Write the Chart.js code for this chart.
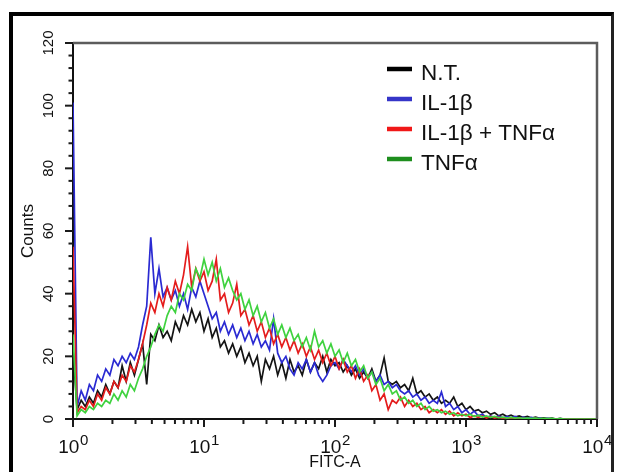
<!DOCTYPE html>
<html>
<head>
<meta charset="utf-8">
<style>
html,body{margin:0;padding:0;background:#fff;overflow:hidden;width:617px;height:472px}
#frame{position:absolute;left:9px;top:12px;width:605px;height:470px;border-left:4px solid #000;border-top:4px solid #000;border-right:3px solid #222;box-sizing:border-box}
#wrap{position:absolute;left:0;top:0;width:617px;height:472px}
</style>
<script src="https://cdn.jsdelivr.net/npm/chart.js@4/dist/chart.umd.min.js"></script>
</head>
<body>
<div id="frame"></div>
<div id="wrap"><canvas id="c" width="617" height="472"></canvas></div>
<script>
// ---- data (counts per log channel, 32 channels per decade, 10^0 .. 10^4) ----
const binsPerDecade = 32;
const seriesLabels = ['N.T.', 'IL-1\u03b2', 'IL-1\u03b2 + TNF\u03b1', 'TNF\u03b1'];

const ntCounts = [
  22, 3, 6, 4, 7, 5, 9, 7, 11, 8, 12, 10, 17, 12, 18, 14,
  19, 24, 11, 27, 25, 30, 26, 28, 25, 31, 28, 33, 30, 35, 31, 34,
  28, 32, 26, 29, 23, 25, 21, 24, 20, 23, 18, 21, 17, 20, 12, 19,
  16, 20, 14, 18, 13, 19, 15, 17, 14, 19, 15, 18, 16, 20, 15, 19,
  17, 18, 15, 17, 14, 16, 13, 15, 13, 16, 12, 14, 19.5, 12, 11, 12,
  10, 11, 9, 13, 8, 9, 7, 8, 6, 7, 5, 6, 5, 7, 4, 5,
  3, 4, 2.5, 3, 2, 2.5, 1.5, 2, 1, 1.5, 0.8, 1.2, 0.6, 1, 0.5, 0.8,
  0.3, 0.6, 0.2, 0.4, 0.1, 0.3, 0, 0.2, 0, 0, 0, 0, 0, 0, 0, 0, 0
];
const il1bCounts = [
  101, 4, 9, 6, 11, 9, 14, 12, 16, 14, 19, 17, 20, 18, 21, 19,
  23, 30, 36, 58, 40, 48, 39, 42, 38, 41, 36, 40, 35, 42, 39, 44,
  40, 36, 32, 34, 28, 31, 27, 30, 26, 29, 25, 28, 24, 27, 23, 25,
  22, 32, 21, 18, 20, 16, 14, 18, 16, 19, 15, 18, 14, 12, 14, 17,
  18, 16, 19, 17, 15, 17, 14, 16, 13, 15, 12, 14, 11, 12, 10, 11,
  9, 8, 9, 7, 8, 6, 7, 5, 6, 5, 8.6, 4, 5, 3, 4, 2,
  3, 1.5, 2.5, 1, 1.5, 0.5, 1, 0.5, 1, 0.3, 0.8, 0.3, 0.8, 0.2, 0.6, 0.2,
  0.5, 0.1, 0.3, 0, 0.2, 0, 0, 0, 0, 0, 0, 0, 0, 0, 0, 0, 0
];
const il1bTnfCounts = [
  55, 2, 4, 3, 6, 4, 8, 6, 10, 8, 12, 10, 14, 12, 17, 15,
  19, 24, 30, 37, 34, 40, 36, 42, 38, 44, 40, 46, 55, 42, 48, 44,
  47, 41, 44, 51, 38, 40, 34, 37, 43, 33, 35, 30, 33, 28, 31, 26,
  29, 24, 27, 23, 26, 22, 25, 21, 24, 20, 23, 19, 22, 18, 21, 17,
  20, 16, 19, 15, 17, 13, 16, 12, 14, 9, 11, 6, 8, 3, 6, 5,
  7, 4, 6, 4, 5, 3, 4, 2, 3, 2, 3, 1.5, 2.5, 1, 2, 1,
  1.5, 0.5, 1, 0.5, 1, 0.3, 0.8, 0.3, 0.6, 0.2, 0.4, 0, 0.3, 0, 0.2, 0,
  0, 0.2, 0, 0, 0, 0, 0, 0, 0, 0, 0, 0, 0, 0, 0, 0, 0
];
const tnfCounts = [
  27, 1, 3, 2, 4, 3, 5, 4, 6, 5, 8, 6, 9, 7, 11, 9,
  13, 16, 20, 23, 27, 30, 28, 33, 36, 34, 40, 38, 43, 41, 48, 45,
  51, 46, 50, 44, 48, 42, 45, 41, 38, 40, 35, 38, 33, 36, 31, 34,
  29, 32, 27, 30, 26, 29, 25, 27, 23, 26, 22, 28, 23, 25, 21, 24,
  20, 22, 18, 21, 17, 19, 15, 17, 13, 15, 11, 13, 9, 11, 8, 9,
  6, 7, 5, 6, 4, 5, 3, 4, 2.5, 3, 2, 2.5, 1.5, 2, 1, 1.5,
  1, 1.5, 0.8, 1.2, 0.6, 1, 0.5, 0.8, 0.4, 0.6, 0.3, 0.5, 0.3, 0.4, 0.2, 0.3,
  0.2, 0.3, 0.1, 0.2, 0.1, 0.2, 0, 0.1, 0, 0, 0, 0, 0, 0, 0, 0, 0
];

// axis ticks
const xDecades = [1, 10, 100, 1000, 10000];
const xExponents = ['0', '1', '2', '3', '4'];
const xMinorMultipliers = [2, 3, 4, 5, 6, 7, 8, 9];
const yTickLabels = [0, 20, 40, 60, 80, 100, 120];

// channel positions (log-spaced channels of the cytometer)
const channels = ntCounts.map((_, i) => Math.pow(10, i / binsPerDecade));

const lineColors = ['#141414', '#2a2ad2', '#e41c1c', '#3fd23f'];
const legendColors = ['#000000', '#3535c8', '#f01818', '#1e8e1e'];
const FONT = "'Liberation Sans', Arial, sans-serif";

const xTickValues = [];
xDecades.forEach((d, k) => {
  xTickValues.push(d);
  if (k < xDecades.length - 1) xMinorMultipliers.forEach(m => xTickValues.push(d * m));
});

const decor = {
  id: 'decor',
  afterDraw(chart) {
    const {ctx, chartArea: a, scales: {x, y}} = chart;
    ctx.save();
    // top / right frame
    ctx.strokeStyle = '#5c5c5c';
    ctx.lineWidth = 2.5;
    ctx.beginPath();
    ctx.moveTo(a.left, a.top);
    ctx.lineTo(a.right, a.top);
    ctx.lineTo(a.right, a.bottom);
    ctx.stroke();
    // tick marks
    ctx.strokeStyle = '#1a1a1a';
    ctx.lineWidth = 2;
    x.ticks.forEach(t => {
      const px = x.getPixelForValue(t.value);
      const l = Math.log10(t.value);
      const major = Math.abs(l - Math.round(l)) < 1e-9;
      ctx.beginPath();
      ctx.moveTo(px, a.bottom);
      ctx.lineTo(px, a.bottom + (major ? 8 : 5));
      ctx.stroke();
    });
    y.ticks.forEach(t => {
      const py = y.getPixelForValue(t.value);
      const major = yTickLabels.includes(t.value);
      ctx.beginPath();
      ctx.moveTo(a.left, py);
      ctx.lineTo(a.left - (major ? 8 : 4.5), py);
      ctx.stroke();
    });
    // x tick labels 10^n
    ctx.fillStyle = '#111';
    ctx.textBaseline = 'alphabetic';
    ctx.textAlign = 'left';
    xDecades.forEach((d, k) => {
      const px = x.getPixelForValue(d);
      ctx.font = '19px ' + FONT;
      const w1 = ctx.measureText('10').width;
      ctx.font = '15px ' + FONT;
      const w2 = ctx.measureText(xExponents[k]).width;
      const start = px - (w1 + w2) / 2;
      ctx.font = '19px ' + FONT;
      ctx.fillText('10', start, 453);
      ctx.font = '15px ' + FONT;
      ctx.fillText(xExponents[k], start + w1 + 0.5, 445);
    });
    // legend
    ctx.font = '22.5px ' + FONT;
    chart.data.datasets.forEach((ds, i) => {
      const ly = 69 + i * 30;
      ctx.strokeStyle = legendColors[i];
      ctx.lineWidth = 4.5;
      ctx.beginPath();
      ctx.moveTo(387, ly);
      ctx.lineTo(412, ly);
      ctx.stroke();
      ctx.fillStyle = '#111';
      ctx.fillText(ds.label, 421, ly + 11);
    });
    ctx.restore();
  }
};

const datasetOf = (i, values, order) => ({
  label: seriesLabels[i],
  data: values,
  borderColor: lineColors[i],
  borderWidth: 1.7,
  pointRadius: 0,
  tension: 0,
  fill: false,
  order
});

new Chart(document.getElementById('c'), {
  type: 'line',
  data: {
    labels: channels,
    datasets: [
      datasetOf(0, ntCounts, 3),
      datasetOf(1, il1bCounts, 2),
      datasetOf(2, il1bTnfCounts, 1),
      datasetOf(3, tnfCounts, 0)
    ]
  },
  options: {
    responsive: false,
    animation: false,
    devicePixelRatio: 1,
    layout: {padding: {top: 43, right: 20, left: 0, bottom: 0}},
    plugins: {legend: {display: false}, tooltip: {enabled: false}},
    scales: {
      x: {
        type: 'logarithmic',
        min: 1,
        max: 10000,
        afterBuildTicks: s => { s.ticks = xTickValues.map(v => ({value: v})); },
        afterFit: s => { s.height = 53; },
        grid: {display: false, drawTicks: false},
        border: {display: true, color: '#111', width: 2},
        ticks: {display: false, autoSkip: false},
        title: {display: true, text: 'FITC-A', color: '#111', font: {family: FONT, size: 16}, padding: {top: 0, bottom: 0}}
      },
      y: {
        type: 'linear',
        min: 0,
        max: 120,
        afterFit: s => { s.width = 73; },
        grid: {display: false, drawTicks: false},
        border: {display: true, color: '#111', width: 2},
        ticks: {
          stepSize: 4,
          autoSkip: false,
          minRotation: 90,
          maxRotation: 90,
          crossAlign: 'center',
          padding: 12,
          color: '#111',
          font: {family: FONT, size: 15},
          callback: v => (yTickLabels.includes(v) ? String(v) : '')
        },
        title: {display: true, text: 'Counts', color: '#111', font: {family: FONT, size: 17}, padding: {top: 18.5, bottom: 0}}
      }
    }
  },
  plugins: [decor]
});
</script>
</body>
</html>
